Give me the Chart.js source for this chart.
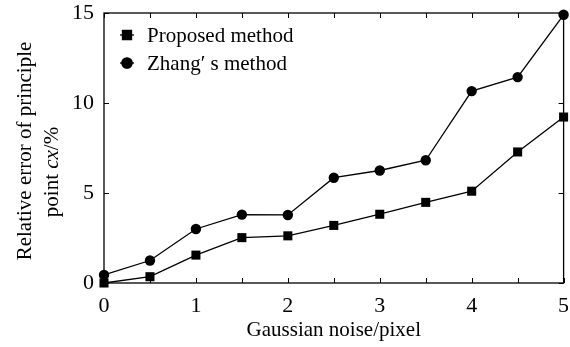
<!DOCTYPE html>
<html>
<head>
<meta charset="utf-8">
<script src="https://cdn.jsdelivr.net/npm/chart.js@4.4.1/dist/chart.umd.min.js"></script>
<style>
  html, body { margin: 0; padding: 0; background: #fff; }
  #wrap { width: 570px; height: 347px; }
</style>
</head>
<body>
<div id="wrap"><canvas id="chart" width="570" height="347"></canvas></div>
<script>
// Values
const noise = [0, 0.5, 1, 1.5, 2, 2.5, 3, 3.5, 4, 4.5, 5];
const proposed = [0.0, 0.35, 1.55, 2.52, 2.62, 3.2, 3.82, 4.48, 5.1, 7.28, 9.22];
const zhang = [0.45, 1.25, 3.0, 3.8, 3.78, 5.85, 6.25, 6.82, 10.66, 11.44, 14.9];
const yTicks = [0, 5, 10, 15];
const seriesNames = ['Proposed method', 'Zhang\u2032 s method'];

const serif = '"Liberation Serif", "Times New Roman", serif';

const toPoints = (ys) => ys.map((y, i) => ({ x: noise[i], y }));

// Inward tick marks and plot frame
const frame = {
  id: 'frame',
  afterDatasetsDraw(chart) {
    const { ctx, chartArea: a, scales: { x, y } } = chart;
    const len = 5;
    ctx.save();
    ctx.strokeStyle = '#000';
    ctx.lineWidth = 1;
    ctx.beginPath();
    x.ticks.forEach((t) => {
      const px = Math.round(x.getPixelForValue(t.value)) + 0.5;
      ctx.moveTo(px, a.bottom); ctx.lineTo(px, a.bottom - len);
      ctx.moveTo(px, a.top); ctx.lineTo(px, a.top + len);
    });
    y.ticks.forEach((t) => {
      const py = Math.round(y.getPixelForValue(t.value)) + 0.5;
      ctx.moveTo(a.left, py); ctx.lineTo(a.left + len, py);
      ctx.moveTo(a.right, py); ctx.lineTo(a.right - len, py);
    });
    ctx.stroke();
    ctx.lineWidth = 1.3;
    ctx.strokeRect(a.left, a.top, a.right - a.left, a.bottom - a.top);
    ctx.restore();
  },
};

// Legend inside the plot, top left
const innerLegend = {
  id: 'innerLegend',
  afterDraw(chart) {
    const { ctx, chartArea: a } = chart;
    ctx.save();
    ctx.font = '21px ' + serif;
    ctx.fillStyle = '#000';
    ctx.textBaseline = 'middle';
    chart.data.datasets.forEach((ds, i) => {
      const yy = a.top + 22 + i * 28;
      const x0 = a.left + 16;
      ctx.strokeStyle = '#000';
      ctx.lineWidth = 1.3;
      ctx.beginPath();
      ctx.moveTo(x0, yy); ctx.lineTo(x0 + 14, yy);
      ctx.stroke();
      Chart.helpers.drawPoint(ctx, {
        pointStyle: ds.pointStyle,
        radius: ds.pointRadius,
        borderWidth: 1,
      }, x0 + 7, yy);
      ctx.fillStyle = '#000';
      ctx.fill();
      ctx.fillText(ds.label, x0 + 27, yy + 1);
    });
    ctx.restore();
  },
};

// Two-line rotated y title with italic "cx"
const yTitle = {
  id: 'yTitle',
  afterDraw(chart) {
    const { ctx } = chart;
    ctx.save();
    ctx.fillStyle = '#000';
    ctx.textBaseline = 'middle';
    ctx.translate(25, 151);
    ctx.rotate(-Math.PI / 2);
    ctx.textAlign = 'center';
    ctx.font = '21px ' + serif;
    ctx.fillText('Relative error of principle', 0, 0);
    ctx.restore();

    ctx.save();
    ctx.fillStyle = '#000';
    ctx.textBaseline = 'middle';
    ctx.translate(52, 172);
    ctx.rotate(-Math.PI / 2);
    const parts = [['point ', 'normal'], ['cx', 'italic'], ['/%', 'normal']];
    let total = 0;
    parts.forEach(([s, st]) => {
      ctx.font = st + ' 21px ' + serif;
      total += ctx.measureText(s).width;
    });
    let cx = -total / 2;
    ctx.textAlign = 'left';
    parts.forEach(([s, st]) => {
      ctx.font = st + ' 21px ' + serif;
      ctx.fillText(s, cx, 0);
      cx += ctx.measureText(s).width;
    });
    ctx.restore();
  },
};

new Chart(document.getElementById('chart'), {
  type: 'line',
  data: {
    datasets: [
      {
        label: seriesNames[0],
        data: toPoints(proposed),
        borderColor: '#000',
        backgroundColor: '#000',
        borderWidth: 1.3,
        pointStyle: 'rect',
        pointRadius: 6.4,
        pointBorderWidth: 0,
      },
      {
        label: seriesNames[1],
        data: toPoints(zhang),
        borderColor: '#000',
        backgroundColor: '#000',
        borderWidth: 1.3,
        pointStyle: 'circle',
        pointRadius: 5.2,
        pointBorderWidth: 0,
      },
    ],
  },
  options: {
    responsive: false,
    animation: false,
    clip: false,
    layout: { padding: { top: 13, right: 4, left: 0, bottom: 0 } },
    plugins: {
      legend: { display: false },
      tooltip: { enabled: false },
    },
    scales: {
      x: {
        type: 'linear',
        min: 0,
        max: 5,
        grid: { display: false, drawTicks: false },
        border: { display: false },
        ticks: {
          stepSize: 0.5,
          autoSkip: false,
          maxRotation: 0,
          padding: 10,
          color: '#000',
          font: { family: serif, size: 22 },
          callback: (v) => (Number.isInteger(v) ? String(v) : ''),
        },
        title: {
          display: true,
          text: 'Gaussian noise/pixel',
          color: '#000',
          font: { family: serif, size: 21 },
          padding: { top: 2, bottom: 4 },
        },
        afterFit: (s) => { s.height = 64; s.paddingLeft = 0; s.paddingRight = 0; },
      },
      y: {
        min: 0,
        max: 15,
        grid: { display: false, drawTicks: false },
        border: { display: false },
        afterBuildTicks: (s) => { s.ticks = yTicks.map((v) => ({ value: v })); },
        ticks: {
          padding: 10,
          color: '#000',
          font: { family: serif, size: 22 },
        },
        afterFit: (s) => { s.width = 104; s.paddingTop = 0; s.paddingBottom = 0; },
      },
    },
  },
  plugins: [frame, innerLegend, yTitle],
});
</script>
</body>
</html>
